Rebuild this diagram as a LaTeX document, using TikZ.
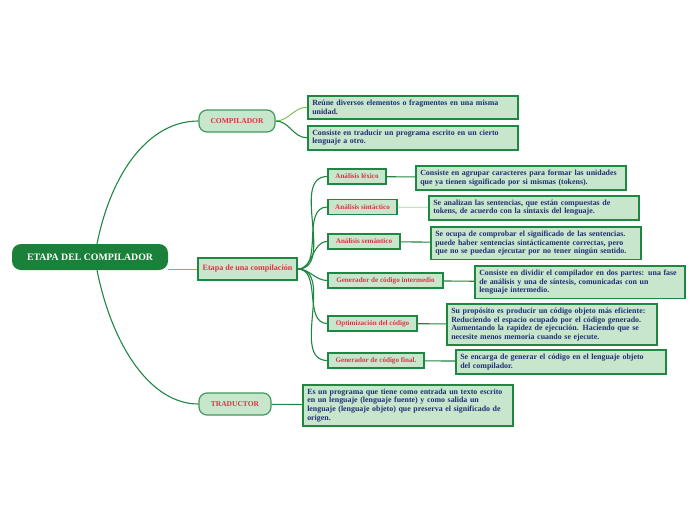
\documentclass[tikz,border=0pt]{standalone}
\usepackage{fontspec}
\setmainfont{Liberation Serif}
\usepackage{tikz}
\usepackage{xcolor}
\usetikzlibrary{positioning}
\definecolor{mapDark}{RGB}{26,128,58}
\definecolor{mapLine}{RGB}{30,135,65}
\definecolor{mapLight}{RGB}{120,190,70}
\definecolor{mapFill}{RGB}{200,230,204}
\definecolor{mapRed}{RGB}{228,48,70}
\definecolor{mapInk}{RGB}{32,46,118}

\begin{document}
\begin{tikzpicture}[x=1pt, y=-1pt,
    rootbox/.style={rounded corners=9pt, fill=mapDark, text=white, font=\fontsize{9.8}{11}\selectfont\bfseries,
      minimum width=156pt, minimum height=26pt},
    topic/.style={rounded corners=8pt, draw=mapLine!85, line width=1.2pt, fill=mapFill, text=mapRed,
      font=\fontsize{7.5}{9}\selectfont\bfseries, minimum height=22pt},
    stage/.style={draw=mapLine, line width=1.2pt, fill=mapFill, text=mapRed,
      font=\fontsize{7.1}{8}\selectfont\bfseries, minimum height=15pt, inner sep=1pt},
    desc/.style={draw=mapLine, line width=1.5pt, fill=mapFill, text=mapInk, align=left, anchor=north west,
      font=\fontsize{7.9}{8.7}\selectfont\bfseries, inner xsep=4.5pt, inner ysep=4pt, text width=201pt},
    link/.style={draw=mapLine, line width=1.1pt},
    soft/.style={draw=mapLight, line width=0.9pt}
  ]
  \useasboundingbox (0,0) rectangle (696,520);

  % centre and main branches
  \node[rootbox] (etapa) at (90,257) {ETAPA DEL COMPILADOR};
  \node[topic, minimum width=76pt] (comp) at (237,121) {COMPILADOR};
  \node[stage, font=\fontsize{8.1}{9}\selectfont\bfseries, minimum width=99pt, minimum height=22pt] (fase) at (247.5,269) {Etapa de una compilación};
  \node[topic, minimum width=72pt] (trad) at (235,404) {TRADUCTOR};

  % compilador
  \node[desc, minimum height=23pt] (reune) at (307,95) {Reúne diversos elementos o fragmentos en una misma\\unidad.};
  \node[desc, minimum height=24pt] (traduce) at (307,125) {Consiste en traducir un programa escrito en un cierto\\lenguaje a otro.};

  % etapas
  \node[stage, minimum width=58pt] (lexico) at (357,176.5) {Análisis léxico};
  \node[stage, minimum width=69pt] (sintac) at (362.5,207) {Análisis sintáctico};
  \node[stage, minimum width=72pt] (seman) at (364,241.5) {Análisis semántico};
  \node[stage, minimum width=115pt] (interm) at (385.5,280.5) {Generador de código intermedio};
  \node[stage, minimum width=89pt] (optim) at (372.5,323.5) {Optimización del código};
  \node[stage, minimum width=96pt] (final) at (376,360.5) {Generador de código final.};

  \node[desc, minimum height=23pt] (dlexico) at (415,165) {Consiste en agrupar caracteres para formar las unidades\\que ya tienen significado por si mismas (tokens).};
  \node[desc, minimum height=24pt] (dsintac) at (428,195) {Se analizan las sentencias, que están compuestas de\\tokens, de acuerdo con la sintaxis del lenguaje.};
  \node[desc, minimum height=31pt] (dseman) at (430,226) {Se ocupa de comprobar el significado de las sentencias.\\puede haber sentencias sintácticamente correctas, pero\\que no se puedan ejecutar por no tener ningún sentido.};
  \node[desc, minimum height=31pt] (dinterm) at (474,265) {Consiste en dividir el compilador en dos partes: una fase\\de análisis y una de síntesis, comunicadas con un\\lenguaje intermedio.};
  \node[desc, minimum height=39pt] (doptim) at (446,303) {Su propósito es producir un código objeto más eficiente:\\Reduciendo el espacio ocupado por el código generado.\\Aumentando la rapidez de ejecución. Haciendo que se\\necesite menos memoria cuando se ejecute.};
  \node[desc, minimum height=24pt] (dfinal) at (455,349) {Se encarga de generar el código en el lenguaje objeto\\del compilador.};

  % traductor
  \node[desc, minimum height=40pt] (dtrad) at (302,384) {Es un programa que tiene como entrada un texto escrito\\en un lenguaje (lenguaje fuente) y como salida un\\lenguaje (lenguaje objeto) que preserva el significado de\\origen.};

  % connectors
  \draw[link] ([xshift=7pt]etapa.north) .. controls (112,170) and (150,121) .. (comp.west);
  \draw[soft] (etapa.east |- fase.west) -- (fase.west);
  \draw[link] ([xshift=7pt]etapa.south) .. controls (112,345) and (150,404) .. (trad.west);

  \draw[soft] (comp.east) to[out=0, in=180] (reune.west);
  \draw[link] (comp.east) to[out=0, in=180] (traduce.west);

  \foreach \s in {lexico, sintac, seman, interm, optim, final}
    \draw[link] (fase.east) to[out=0, in=180] (\s.west);

  \draw[link] (lexico) -- (dlexico);
  \draw[draw=mapLine!40, line width=0.8pt] (sintac) -- (dsintac);
  \draw[link] (seman) -- (dseman);
  \draw[link] (interm) -- (dinterm);
  \draw[link] (optim) -- (doptim);
  \draw[link] (final) -- (dfinal);
  \draw[link] (trad) -- (dtrad);
\end{tikzpicture}
\end{document}
